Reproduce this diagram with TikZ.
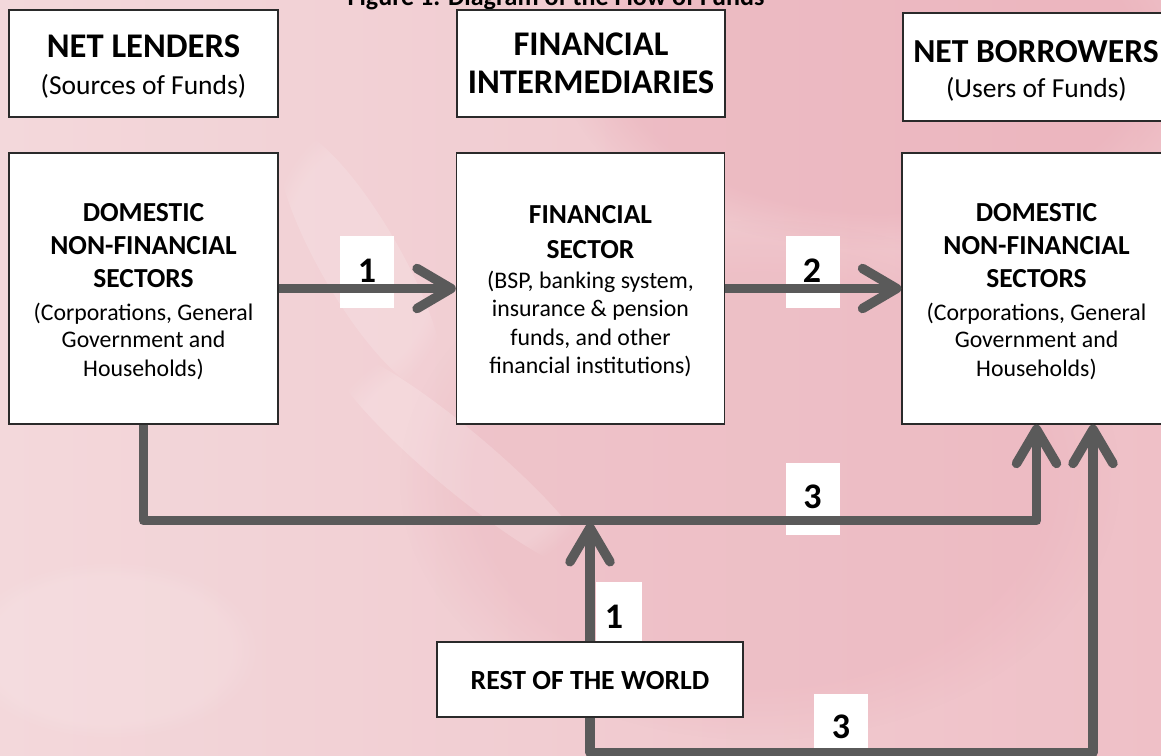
\documentclass[tikz,border=0pt]{standalone}
\usepackage{fontspec}
\setmainfont{Carlito}
\usetikzlibrary{arrows.meta,fadings}
\definecolor{flowgray}{HTML}{5A5A5A}
\definecolor{boxline}{HTML}{2A2A2A}
\definecolor{bgleft}{HTML}{F3D8DB}
\definecolor{bgright}{HTML}{EFC0C7}
\definecolor{bgdeep}{HTML}{E8A6B2}
\begin{document}
\begin{tikzpicture}[x=1pt,y=-1pt,
  box/.style={draw=boxline, line width=1.4pt, fill=white, inner sep=0pt},
  tag/.style={fill=white, inner sep=0pt, minimum width=54pt, minimum height=72pt},
  head/.style={font=\bfseries\fontsize{34.6}{40}\selectfont, anchor=base, inner sep=0pt},
  sub/.style={font=\fontsize{27.5}{32}\selectfont, anchor=base, inner sep=0pt},
  bold/.style={font=\bfseries\fontsize{27.5}{30}\selectfont, anchor=base, inner sep=0pt},
  plain/.style={font=\fontsize{23.8}{28}\selectfont, anchor=base, inner sep=0pt},
  digit/.style={font=\bfseries\fontsize{36}{40}\selectfont, anchor=base, inner sep=0pt},
  flow/.style={draw=flowgray, line width=9.5pt, line join=round,
    -{Straight Barb[length=34pt,width=40pt,round]}},
  glow/.style={path fading=circle with fuzzy edge 20 percent},
]
\useasboundingbox (0,0) rectangle (1161,755);
\clip (0,0) rectangle (1161,755);

% paper background with soft tints
\shade[left color=bgleft, right color=bgright] (0,0) rectangle (1161,755);
\fill[bgdeep, opacity=0.40, glow] (880,60) ellipse [x radius=320pt, y radius=190pt];
\fill[bgdeep, opacity=0.25, glow] (760,480) ellipse [x radius=360pt, y radius=260pt];
\fill[white, opacity=0.18, glow, rotate around={-40:(460,460)}] (460,460) ellipse [x radius=170pt, y radius=30pt];
\fill[white, opacity=0.15, glow, rotate around={-60:(360,260)}] (360,260) ellipse [x radius=150pt, y radius=40pt];
\fill[white, opacity=0.12, glow] (110,650) ellipse [x radius=150pt, y radius=90pt];

% title (runs off the top edge)
\node[font=\bfseries\fontsize{26}{30}\selectfont, anchor=base, inner sep=0pt] (title) at (556,5) {Figure 1. Diagram of the Flow of Funds};

% column headers
\node[box, minimum width=269pt, minimum height=107pt] (hlend) at (143.5,63.5) {};
\node[box, minimum width=268pt, minimum height=107pt] (hint) at (591,63.5) {};
\node[box, minimum width=267pt, minimum height=108pt] (hbor) at (1036.5,67) {};

% number tags behind the flows
\node[tag] (t1) at (367,272) {};
\node[tag] (t2) at (813,272) {};
\node[tag] (t3) at (813,499) {};
\node[tag, minimum width=46pt, minimum height=60pt] (t4) at (619,612) {};
\node[tag, minimum height=60pt] (t5) at (841,724) {};

% sector boxes
\node[box, minimum width=269pt, minimum height=271pt] (lend) at (143.5,288.5) {};
\node[box, minimum width=268pt, minimum height=271pt] (fin) at (590.5,288.5) {};
\node[box, minimum width=269pt, minimum height=271pt] (bor) at (1036.5,288.5) {};
\node[box, minimum width=306pt, minimum height=75pt] (row) at (590,679.5) {};

% flows
\coordinate (merge) at (590,523);
\draw[flow] (lend.east) -- (fin.west);
\draw[flow] (fin.east) -- (bor.west);
\draw[flow] (lend.south) -- ++(0,96) -| (bor.south);
\draw[flow] (row.north) -- (merge);
\draw[flow] (row.south) -- ++(0,35) -| ([xshift=56.5pt]bor.south);

% box outline drawn again over the flow ends
\node[box, minimum width=306pt, minimum height=75pt] (row2) at (590,679.5) {};

% digits
\node[digit] (d1) at (367,282) {1};
\node[digit] (d2) at (812,282) {2};
\node[digit] (d3) at (812.5,508) {3};
\node[digit] (d4) at (614,628) {1};
\node[digit] (d5) at (841,738) {3};

% header texts
\node[head] (x1) at (143.5,57) {NET LENDERS};
\node[sub] (x2) at (143.5,94) {(Sources of Funds)};
\node[head] (x3) at (591,55) {FINANCIAL};
\node[head] (x4) at (591,93) {INTERMEDIARIES};
\node[head, font=\bfseries\fontsize{33.6}{40}\selectfont] (x5) at (1036,62) {NET BORROWERS};
\node[sub] (x6) at (1036.5,97) {(Users of Funds)};

% lenders
\node[bold] (a1) at (143.5,221.7) {DOMESTIC};
\node[bold] (a2) at (143.5,254.3) {NON-FINANCIAL};
\node[bold] (a3) at (143.5,287.7) {SECTORS};
\node[plain] (a4) at (143.5,320) {(Corporations, General};
\node[plain] (a5) at (143.5,347.3) {Government and};
\node[plain] (a6) at (143.5,376) {Households)};

% financial sector
\node[bold] (b1) at (590.5,223.3) {FINANCIAL};
\node[bold] (b2) at (590.5,258.3) {SECTOR};
\node[plain] (b3) at (590.5,288.3) {(BSP, banking system,};
\node[plain] (b4) at (590.5,316.7) {insurance \& pension};
\node[plain] (b5) at (590.5,345) {funds, and other};
\node[plain] (b6) at (590.5,373.3) {financial institutions)};

% borrowers
\node[bold] (c1) at (1036.5,221.7) {DOMESTIC};
\node[bold] (c2) at (1036.5,254.3) {NON-FINANCIAL};
\node[bold] (c3) at (1036.5,287.7) {SECTORS};
\node[plain] (c4) at (1036.5,320) {(Corporations, General};
\node[plain] (c5) at (1036.5,347.3) {Government and};
\node[plain] (c6) at (1036.5,376) {Households)};

% rest of the world
\node[font=\bfseries\fontsize{27.7}{30}\selectfont, anchor=base, inner sep=0pt] (r1) at (590,689) {REST OF THE WORLD};
\end{tikzpicture}
\end{document}
